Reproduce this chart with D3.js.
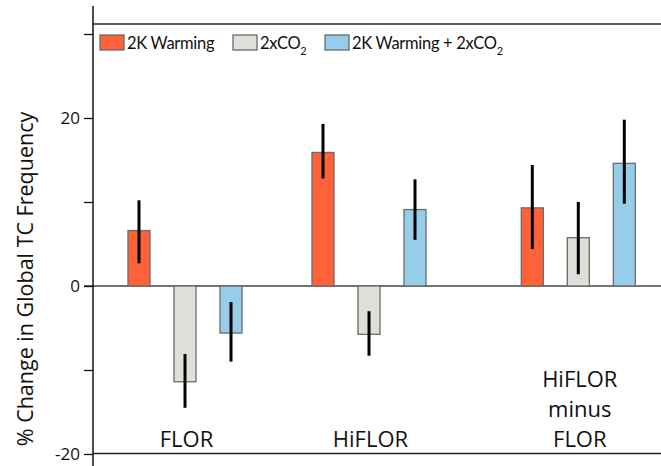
<!DOCTYPE html>
<html>
<head>
<meta charset="utf-8">
<script src="https://cdn.jsdelivr.net/npm/d3@7"></script>
<style>
  body { margin: 0; background: #fff; }
  text { font-family: "Open Sans", sans-serif; fill: #111; }
</style>
</head>
<body>
<script>
// Data
var groups = ['FLOR', 'HiFLOR', 'HiFLOR minus FLOR'];
var seriesNames = ['2K Warming', '2xCO2', '2K Warming + 2xCO2'];
var warming = [6.6, 15.9, 9.3];
var co2 = [-11.4, -5.75, 5.75];
var combined = [-5.6, 9.1, 14.6];
var warmingErr = [[2.7, 10.2], [12.8, 19.3], [4.4, 14.4]];
var co2Err = [[-14.5, -8.1], [-8.3, -3.0], [1.4, 10.0]];
var combinedErr = [[-9.0, -1.9], [5.5, 12.7], [9.8, 19.8]];
var yTicks = [-20, -10, 0, 10, 20, 30];

var colors = ['#ff6138', '#dfdfd9', '#95cdea'];

window.onload = function(){
    var width = 661, height = 466;
    var svg = d3.select('body').append('svg')
        .attr('width', width)
        .attr('height', height);

    var axisX = 93;
    var y = d3.scaleLinear().domain([-20, 30]).range([454, 34]);

    // slot layout: bars sit in slots, third group pushed a bit further out
    var groupSlot = [0, 4, 8.55];
    var x = d3.scaleLinear().domain([0, 1]).range([128, 174]);
    var barW = 22;

    // frame lines
    svg.append('line')
        .attr('x1', axisX).attr('x2', width)
        .attr('y1', 24).attr('y2', 24)
        .style('stroke', '#222').style('stroke-width', 1.5);
    svg.append('line')
        .attr('x1', axisX).attr('x2', width)
        .attr('y1', y(-20) - 0.5).attr('y2', y(-20) - 0.5)
        .style('stroke', '#222').style('stroke-width', 1.5);
    svg.append('line')
        .attr('x1', 84).attr('x2', width)
        .attr('y1', y(0)).attr('y2', y(0))
        .style('stroke', '#444').style('stroke-width', 1.3);

    // y axis
    var yAxis = d3.axisLeft(y)
        .tickValues(yTicks)
        .tickSize(9)
        .tickPadding(4)
        .tickFormat(function(d){ return d % 20 === 0 ? String(d) : ''; });
    var axis = svg.append('g')
        .attr('transform', 'translate(' + axisX + ',0)')
        .call(yAxis);
    axis.select('.domain').remove();
    axis.selectAll('.tick line').style('stroke', '#111').style('stroke-width', 1.3);
    axis.selectAll('.tick text')
        .style('font-family', '"Open Sans", sans-serif')
        .style('font-size', '17px')
        .style('fill', '#111');
    svg.append('line')
        .attr('x1', axisX).attr('x2', axisX)
        .attr('y1', 6).attr('y2', height)
        .style('stroke', '#111').style('stroke-width', 1.5);

    // y label
    svg.append('text')
        .attr('transform', 'translate(33,' + 279 + ') rotate(-90)')
        .attr('text-anchor', 'middle')
        .style('font-size', '21.5px')
        .text('% Change in Global TC Frequency');

    // bars
    var values = [warming, co2, combined];
    var errs = [warmingErr, co2Err, combinedErr];
    var bars = [];
    groups.forEach(function(g, gi){
        values.forEach(function(v, si){
            bars.push({ group: gi, series: si, value: v[gi], err: errs[si][gi] });
        });
    });

    function slotX(d){ return x(groupSlot[d.group] + d.series); }

    svg.selectAll('.bar')
        .data(bars)
        .enter()
        .append('rect')
        .attr('class', 'bar')
        .attr('x', slotX)
        .attr('y', function(d){ return y(Math.max(0, d.value)); })
        .attr('width', barW)
        .attr('height', function(d){ return Math.abs(y(d.value) - y(0)); })
        .style('fill', function(d){ return colors[d.series]; })
        .style('stroke', '#6a6a6a')
        .style('stroke-width', 1.3);

    svg.selectAll('.err')
        .data(bars)
        .enter()
        .append('line')
        .attr('class', 'err')
        .attr('x1', function(d){ return slotX(d) + barW / 2; })
        .attr('x2', function(d){ return slotX(d) + barW / 2; })
        .attr('y1', function(d){ return y(d.err[1]); })
        .attr('y2', function(d){ return y(d.err[0]); })
        .style('stroke', '#000')
        .style('stroke-width', 3);

    // group labels
    var labelLines = [['FLOR'], ['HiFLOR'], ['HiFLOR', 'minus', 'FLOR']];
    labelLines.forEach(function(lines, gi){
        var cx = x(groupSlot[gi] + 1) + barW / 2 + 1.5;
        var t = svg.append('text')
            .attr('text-anchor', 'middle')
            .style('font-size', '22px');
        lines.forEach(function(line, li){
            t.append('tspan')
                .attr('x', cx)
                .attr('y', 447 - (lines.length - 1 - li) * 30)
                .text(line);
        });
    });

    // legend
    var legendX = [100, 233, 325];
    var legend = svg.selectAll('.legend')
        .data(seriesNames)
        .enter()
        .append('g')
        .attr('class', 'legend')
        .attr('transform', function(d, i){ return 'translate(' + legendX[i] + ',35)'; });
    legend.append('rect')
        .attr('width', 24).attr('height', 15)
        .style('fill', function(d, i){ return colors[i]; })
        .style('stroke', '#6a6a6a')
        .style('stroke-width', 1.3);
    var lt = legend.append('text')
        .attr('x', 27)
        .attr('y', 13.5)
        .style('font-family', 'Lato, sans-serif')
        .style('font-size', '16.5px')
        .style('letter-spacing', '-0.3px');
    lt.each(function(d){
        var t = d3.select(this);
        var m = d.match(/^(.*CO)2$/);
        if (m) {
            t.append('tspan').text(m[1]);
            t.append('tspan').attr('dy', 6).style('font-size', '11px').text('2');
        } else {
            t.text(d);
        }
    });
};
</script>
</body>
</html>
